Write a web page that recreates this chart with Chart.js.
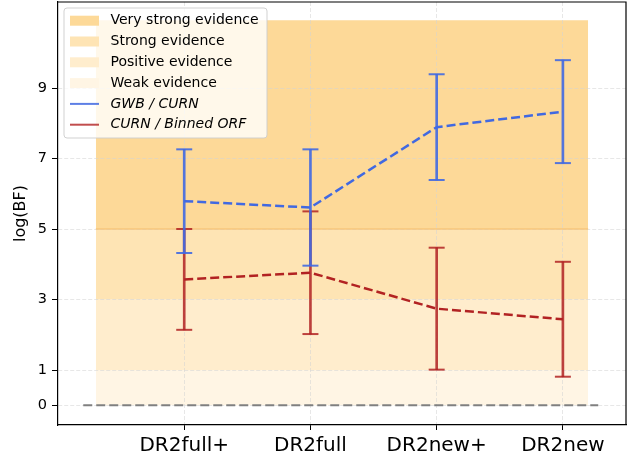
<!DOCTYPE html>
<html>
<head>
<meta charset="utf-8">
<script src="https://cdn.jsdelivr.net/npm/chart.js@4/dist/chart.umd.min.js"></script>
<style>
  html, body { margin: 0; padding: 0; background: #fff; }
  #wrap { width: 638px; height: 456px; }
</style>
</head>
<body>
<div id="wrap"><canvas id="c" width="638" height="456"></canvas></div>
<script>
// Data releases on the x axis
const categories = ['DR2full+', 'DR2full', 'DR2new+', 'DR2new'];

// log Bayes factors and their symmetric uncertainties
const gwbCurn = [5.79, 5.61, 7.89, 8.33];
const gwbCurnErr = [1.47, 1.65, 1.50, 1.46];
const curnOrf = [3.57, 3.76, 2.74, 2.44];
const curnOrfErr = [1.43, 1.74, 1.73, 1.63];

// Evidence bands (Kass & Raftery style thresholds)
const bandNames = ['Very strong evidence', 'Strong evidence', 'Positive evidence', 'Weak evidence'];
const bandLower = [5, 3, 1, 0];
const bandUpper = [10.92, 5, 3, 1];
const bandSpan = [-0.7, 3.2];

// Reference line at log(BF) = 0
const zeroLevel = 0;
const zeroSpan = [-0.8, 3.28];

// Axis ticks
const yTicks = [0, 1, 3, 5, 7, 9];

const seriesNames = ['GWB / CURN', 'CURN / Binned ORF'];

const BLUE = 'rgb(65,105,225)';
const BLUE_BAR = 'rgba(65,105,225,0.9)';
const RED = 'rgb(178,34,34)';
const RED_BAR = 'rgba(178,34,34,0.85)';
const bandColors = ['rgb(253,217,152)', 'rgb(254,228,180)', 'rgb(255,237,205)', 'rgb(255,245,228)'];

Chart.defaults.font.family = "'DejaVu Sans', sans-serif";
Chart.defaults.color = '#000';

function bandDatasets() {
  return bandNames.map((name, k) => ({
    type: 'line',
    label: name,
    data: bandSpan.map(x => ({ x: x, y: bandUpper[k] })),
    fill: { value: bandLower[k] },
    backgroundColor: bandColors[k],
    borderColor: k === 1 ? 'rgba(246,196,120,0.9)' : 'rgba(0,0,0,0)',
    borderWidth: 1.5,
    pointRadius: 0,
    order: 20
  }));
}

function errorBars(values, errs, color, order) {
  return [
    {
      type: 'bar',
      data: values.map((v, i) => ({ x: i, y: [v - errs[i], v + errs[i]] })),
      backgroundColor: color,
      borderWidth: 0,
      barThickness: 2,
      grouped: false,
      order: order
    },
    {
      type: 'line',
      data: values.flatMap((v, i) => [{ x: i, y: v - errs[i] }, { x: i, y: v + errs[i] }]),
      showLine: false,
      pointStyle: 'line',
      pointRadius: 8,
      pointHoverRadius: 8,
      pointBorderWidth: 2,
      pointBorderColor: color,
      order: order
    }
  ];
}

function seriesLine(values, color, order) {
  return {
    type: 'line',
    data: values.map((v, i) => ({ x: i, y: v })),
    borderColor: color,
    borderWidth: 2.5,
    borderDash: [9, 4],
    pointRadius: 0,
    tension: 0,
    fill: false,
    order: order
  };
}

const datasets = [
  ...bandDatasets(),
  {
    type: 'line',
    data: zeroSpan.map(x => ({ x: x, y: zeroLevel })),
    borderColor: 'rgb(128,128,128)',
    borderWidth: 2.2,
    borderDash: [9, 4],
    pointRadius: 0,
    fill: false,
    order: 10
  },
  ...errorBars(curnOrf, curnOrfErr, RED_BAR, 6),
  seriesLine(curnOrf, RED, 5),
  ...errorBars(gwbCurn, gwbCurnErr, BLUE_BAR, 4),
  seriesLine(gwbCurn, BLUE, 3)
];

// Top and right frame lines
const framePlugin = {
  id: 'frame',
  afterDatasetsDraw(chart) {
    const { ctx, chartArea: a } = chart;
    ctx.save();
    ctx.strokeStyle = '#000';
    ctx.lineWidth = 1.2;
    ctx.beginPath();
    ctx.moveTo(a.left, a.top);
    ctx.lineTo(a.right, a.top);
    ctx.lineTo(a.right, a.bottom);
    ctx.stroke();
    ctx.restore();
  }
};

// Legend box with band swatches and series lines
const legendPlugin = {
  id: 'customLegend',
  afterDraw(chart) {
    const { ctx } = chart;
    const x0 = 64, y0 = 8, w = 203, h = 130, r = 3;
    ctx.save();
    ctx.beginPath();
    ctx.moveTo(x0 + r, y0);
    ctx.arcTo(x0 + w, y0, x0 + w, y0 + h, r);
    ctx.arcTo(x0 + w, y0 + h, x0, y0 + h, r);
    ctx.arcTo(x0, y0 + h, x0, y0, r);
    ctx.arcTo(x0, y0, x0 + w, y0, r);
    ctx.closePath();
    ctx.fillStyle = 'rgba(255,255,255,0.8)';
    ctx.fill();
    ctx.strokeStyle = 'rgba(204,204,204,0.9)';
    ctx.lineWidth = 1;
    ctx.stroke();

    const rows = [20.7, 41.5, 62.3, 83.1, 103.9, 124.7];
    const hx = 70, hw = 29, tx = 110.5;
    ctx.textBaseline = 'middle';
    ctx.textAlign = 'left';
    bandNames.forEach((name, k) => {
      ctx.fillStyle = bandColors[k];
      ctx.fillRect(hx, rows[k] - 5, hw, 10);
      ctx.fillStyle = '#000';
      ctx.font = "14px 'DejaVu Sans'";
      ctx.fillText(name, tx, rows[k]);
    });
    const lineCols = ['rgba(65,105,225,0.85)', 'rgba(178,34,34,0.8)'];
    seriesNames.forEach((name, k) => {
      const y = rows[4 + k];
      ctx.strokeStyle = lineCols[k];
      ctx.lineWidth = 2;
      ctx.beginPath();
      ctx.moveTo(hx, y);
      ctx.lineTo(hx + hw, y);
      ctx.stroke();
      ctx.fillStyle = '#000';
      ctx.font = "italic 14px 'DejaVu Sans'";
      ctx.fillText(name, tx, y);
    });
    ctx.restore();
  }
};

new Chart(document.getElementById('c'), {
  type: 'line',
  data: { datasets: datasets },
  options: {
    responsive: false,
    devicePixelRatio: 1,
    animation: false,
    events: [],
    layout: { autoPadding: false, padding: { top: 2, right: 12, left: 0, bottom: 0 } },
    plugins: {
      legend: { display: false },
      tooltip: { enabled: false },
      filler: { drawTime: 'beforeDraw', propagate: false }
    },
    scales: {
      x: {
        type: 'linear',
        min: -1,
        max: 3.5,
        offset: false,
        afterBuildTicks: s => { s.ticks = categories.map((_, i) => ({ value: i })); },
        afterFit: s => { s.height = 31; s.paddingLeft = 0; s.paddingRight = 0; },
        ticks: {
          callback: v => categories[v],
          font: { size: 20 },
          color: '#000',
          padding: 4,
          maxRotation: 0,
          autoSkip: false
        },
        grid: {
          offset: false,
          color: 'rgba(211,211,211,0.55)',
          lineWidth: 1,
          tickColor: '#000',
          tickLength: 5,
          tickWidth: 1
        },
        border: { display: true, color: '#000', width: 1.2, dash: [4, 2] }
      },
      y: {
        type: 'linear',
        min: -0.56,
        max: 11.44,
        afterBuildTicks: s => { s.ticks = yTicks.map(v => ({ value: v })); },
        afterFit: s => { s.width = 58; s.paddingTop = 0; s.paddingBottom = 0; },
        ticks: {
          font: { size: 14.5 },
          color: '#000',
          padding: 5
        },
        grid: {
          color: 'rgba(211,211,211,0.55)',
          lineWidth: 1,
          tickColor: '#000',
          tickLength: 6,
          tickWidth: 1
        },
        border: { display: true, color: '#000', width: 1.2, dash: [4, 2] },
        title: {
          display: true,
          text: 'log(BF)',
          font: { size: 16 },
          color: '#000',
          padding: { top: 11, bottom: 0 }
        }
      }
    }
  },
  plugins: [framePlugin, legendPlugin]
});
</script>
</body>
</html>
